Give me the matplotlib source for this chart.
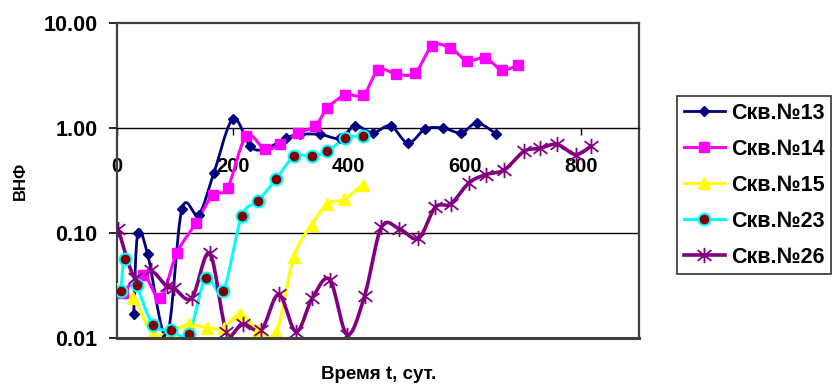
import numpy as np
import matplotlib.pyplot as plt
from matplotlib.path import Path

plt.rcParams['font.family'] = ['Liberation Sans', 'DejaVu Sans']
plt.rcParams['font.weight'] = 'bold'

# values (t in days, ВНФ)
t13 = [29, 36, 53, 86, 112, 141, 167, 200, 230, 255, 291, 315, 351, 384, 411, 441,
       472, 502, 532, 563, 594, 621, 654]
v13 = [0.017, 0.10, 0.063, 0.0105, 0.168, 0.15, 0.37, 1.22, 0.67, 0.63, 0.80, 0.87,
       0.87, 0.80, 1.05, 0.90, 1.05, 0.72, 0.98, 1.00, 0.90, 1.12, 0.88]

t14 = [10, 45, 75, 103, 136, 165, 191, 223, 255, 282, 313, 342, 363, 394, 425, 451,
       482, 514, 544, 575, 604, 635, 664, 692]
v14 = [0.027, 0.040, 0.024, 0.064, 0.124, 0.23, 0.27, 0.84, 0.63, 0.70, 0.90, 1.05,
       1.55, 2.07, 2.07, 3.58, 3.28, 3.35, 6.07, 5.80, 4.37, 4.67, 3.58, 4.00]

t15 = [0, 28, 62, 93, 124, 155, 184, 213, 243, 275, 305, 336, 363, 392, 424]
v15 = [0.029, 0.024, 0.011, 0.0115, 0.0135, 0.0125, 0.0125, 0.017, 0.012, 0.0115,
       0.059, 0.12, 0.19, 0.21, 0.29]

t23 = [7, 14, 34, 62, 93, 124, 153, 183, 215, 243, 275, 306, 336, 363, 394, 424]
v23 = [0.028, 0.057, 0.032, 0.0134, 0.0118, 0.011, 0.037, 0.028, 0.144, 0.20, 0.33,
       0.54, 0.54, 0.60, 0.80, 0.84]

t26 = [2, 31, 58, 86, 98, 129, 160, 189, 217, 249, 279, 309, 337, 367, 397, 427, 456,
       487, 520, 549, 576, 607, 636, 668, 702, 729, 759, 791, 817]
v26 = [0.11, 0.037, 0.044, 0.031, 0.030, 0.024, 0.064, 0.0115, 0.0137, 0.012, 0.026,
       0.0115, 0.024, 0.036, 0.0108, 0.025, 0.113, 0.11, 0.089, 0.176, 0.19, 0.30,
       0.36, 0.40, 0.60, 0.64, 0.70, 0.56, 0.67]

labels = ["Скв.№13", "Скв.№14", "Скв.№15", "Скв.№23", "Скв.№26"]
x_ticks = [0, 200, 400, 600, 800]
y_ticks = [0.01, 0.1, 1, 10]
y_ticklabels = ["0.01", "0.10", "1.00", "10.00"]

# excel-like star marker: X plus vertical bar
star = Path([(0, -1), (0, 1), (-0.9, -0.7), (0.9, 0.7), (-0.9, 0.7), (0.9, -0.7)],
            [Path.MOVETO, Path.LINETO, Path.MOVETO, Path.LINETO, Path.MOVETO, Path.LINETO])


def smooth(t, v, n=16):
    # catmull-rom through the points in (t, log10 v), like Excel smoothed lines
    x = np.asarray(t, float)
    y = np.log10(np.asarray(v, float))
    px = np.concatenate([[x[0]], x, [x[-1]]])
    py = np.concatenate([[y[0]], y, [y[-1]]])
    xs, ys = [], []
    s = np.linspace(0, 1, n, endpoint=False)
    for i in range(1, len(px) - 2):
        for p, out in ((px, xs), (py, ys)):
            p0, p1, p2, p3 = p[i - 1], p[i], p[i + 1], p[i + 2]
            out.extend(0.5 * (2 * p1 + (-p0 + p2) * s + (2 * p0 - 5 * p1 + 4 * p2 - p3) * s ** 2
                              + (-p0 + 3 * p1 - 3 * p2 + p3) * s ** 3))
    xs.append(x[-1])
    ys.append(y[-1])
    return np.array(xs), 10 ** np.array(ys)


fig = plt.figure(figsize=(8.35, 3.85), dpi=100)
ax = fig.add_axes([0.140, 0.122, 0.625, 0.818])
ax.set_yscale('log')
ax.set_xlim(0, 900)
ax.set_ylim(0.01, 10)

series = [
    (t13, v13, dict(color='#000080', lw=2.0), dict(marker='D', ms=5.5, mfc='#000080', mec='#000080')),
    (t14, v14, dict(color='#FF00FF', lw=2.2), dict(marker='s', ms=7, mfc='#FF00FF', mec='#FF00FF')),
    (t15, v15, dict(color='#FFFF00', lw=2.2), dict(marker='^', ms=8.5, mfc='#FFFF00', mec='#FFFF00')),
    (t23, v23, dict(color='#00FFFF', lw=2.2), dict(marker='o', ms=8.5, mfc='#800000', mec='#00FFFF', mew=1.5)),
    (t26, v26, dict(color='#800080', lw=2.6), dict(marker=star, ms=11, mfc='none', mec='#800080', mew=1.3)),
]

handles = []
for (t, v, lst, mst), lab in zip(series, labels):
    sx, sy = smooth(t, v)
    ax.plot(sx, sy, zorder=3, solid_capstyle='round', **lst)
    ax.plot(t, v, ls='none', zorder=4, **mst)
    h, = ax.plot([], [], label=lab, **lst, **mst)
    handles.append(h)

# gridlines and axes like the Excel chart: x axis crosses at 1.0
ax.axhline(0.1, color='black', lw=1.0, zorder=1)
ax.spines['bottom'].set_position(('data', 1.0))
ax.spines['bottom'].set_color('black')
ax.spines['bottom'].set_linewidth(1.0)
ax.axhline(0.01, color='#404040', lw=2.2, zorder=5, clip_on=False)
for s in ['top', 'right', 'left']:
    ax.spines[s].set_color('#404040')
    ax.spines[s].set_linewidth(1.6)

ax.set_xticks(x_ticks)
ax.set_xticklabels([str(x) for x in x_ticks])
ax.set_yticks(y_ticks)
ax.set_yticklabels(y_ticklabels)
ax.yaxis.set_minor_locator(plt.NullLocator())
ax.tick_params(axis='x', direction='out', length=5, width=1, pad=16, labelsize=14.5)
ax.tick_params(axis='y', direction='out', length=6, width=1.2, pad=8, labelsize=15.5)
for lab in ax.get_xticklabels() + ax.get_yticklabels():
    lab.set_fontweight('bold')

fig.text(0.024, 0.53, "ВНФ", rotation=90, ha='center', va='center', fontsize=12, fontweight='bold')
fig.text(0.453, 0.027, "Время t, сут.", ha='center', va='center', fontsize=13.5, fontweight='bold')

leg = fig.legend(handles=handles, loc='upper left', bbox_to_anchor=(0.811, 0.75),
                 fontsize=15.5, frameon=True, fancybox=False, handlelength=1.9,
                 handletextpad=0.3, labelspacing=0.7, borderpad=0.3, borderaxespad=0)
leg.get_frame().set_edgecolor('black')
leg.get_frame().set_linewidth(1.2)
for txt in leg.get_texts():
    txt.set_fontweight('bold')

fig.savefig("out.png", dpi=100)
